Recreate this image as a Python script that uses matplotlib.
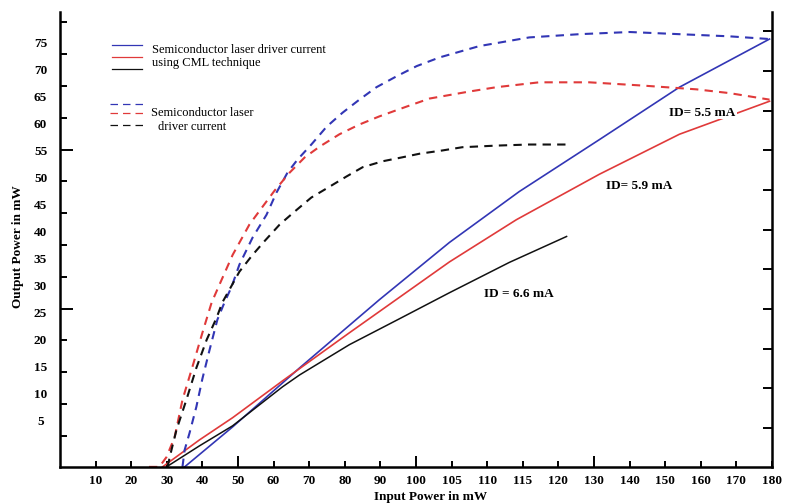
import numpy as np
import matplotlib.pyplot as plt
from matplotlib.lines import Line2D

plt.rcParams['font.family'] = ['Liberation Serif', 'DejaVu Serif']

# x axis labels of the original figure (unevenly spaced values, evenly spaced on the axis)
x_ticks = [10, 20, 30, 40, 50, 60, 70, 80, 90, 100, 105, 110, 115, 120, 130, 140, 150, 160, 170, 180]
y_ticks = [5, 10, 15, 20, 25, 30, 35, 40, 45, 50, 55, 60, 65, 70, 75]

# solid curves: semiconductor laser driver current using CML technique
blue_x = [35.0, 48.5, 67.3, 89.7, 104.7, 114.5, 131.5, 154.0, 179.3]
blue_y = [-3.5, 3.9, 14.8, 27.4, 38.0, 47.4, 57.0, 66.7, 75.6]
red_x = [28.8, 39.2, 48.5, 62.5, 81.3, 104.7, 114.1, 131.5, 154.0, 179.3]
red_y = [-3.5, 1.5, 5.6, 12.4, 21.3, 34.4, 42.2, 50.6, 58.0, 64.1]
black_x = [29.9, 39.2, 48.5, 62.5, 67.3, 81.3, 95.4, 104.7, 113.1, 122.3]
black_y = [-3.5, 0.4, 4.1, 11.3, 13.5, 19.1, 23.9, 28.7, 34.3, 39.1]

# dashed curves: semiconductor laser driver current
blue_d_x = [34.4, 35.0, 36.4, 38.3, 40.0, 42.0, 44.2, 46.2, 48.2, 50.4, 54.1, 58.0, 60.8, 63.9, 66.7,
            70.6, 74.9, 79.4, 84.1, 88.9, 94.5, 100.1, 103.3, 108.9, 115.9, 125.9, 140.0, 154.0, 168.1, 179.3]
blue_d_y = [-3.5, -0.4, 2.8, 7.6, 12.8, 18.1, 23.7, 26.9, 29.8, 33.9, 38.9, 43.1, 47.2, 50.9, 53.3,
            56.1, 59.4, 62.0, 64.4, 66.7, 68.7, 70.6, 72.2, 74.3, 75.9, 76.5, 76.9, 76.5, 76.1, 75.6]
red_d_x = [25.0, 27.9, 29.9, 32.2, 34.4, 37.2, 40.0, 42.6, 45.4, 48.5, 53.2, 56.9, 60.3, 64.5, 68.7, 72.9,
           78.5, 84.1, 89.7, 97.3, 101.9, 107.5, 111.3, 117.3, 128.7, 143.6, 158.8, 168.1, 179.3]
red_d_y = [-3.5, -3.5, -1.7, 2.0, 8.9, 15.0, 21.3, 26.9, 31.1, 35.7, 41.3, 44.6, 47.6, 50.9, 53.7, 55.7,
           58.0, 59.8, 61.3, 63.1, 64.6, 65.9, 66.7, 67.6, 67.6, 67.0, 66.3, 65.6, 64.4]
black_d_x = [30.2, 31.3, 32.7, 35.5, 38.3, 41.2, 44.0, 45.6, 50.4, 54.1, 57.4, 61.7, 65.9, 70.6, 75.7,
             80.5, 85.0, 90.6, 95.9, 100.5, 103.7, 106.5, 111.3, 115.9, 122.3]
black_d_y = [-3.5, -0.4, 3.3, 8.9, 14.8, 20.0, 24.1, 26.9, 32.6, 35.7, 38.2, 41.3, 43.7, 46.3, 48.3,
             50.2, 51.9, 53.0, 53.7, 54.4, 55.0, 55.6, 55.9, 56.1, 56.1]

BLUE = '#3236b5'
RED = '#e03a3a'
BLACK = '#111111'

scale_vals = [0] + x_ticks
scale_pos = np.arange(len(scale_vals))


def fwd(x):
    return np.interp(x, scale_vals, scale_pos)


def inv(p):
    return np.interp(p, scale_pos, scale_vals)


fig = plt.figure(figsize=(7.87, 5.03), dpi=100)
ax = fig.add_axes([60 / 787, 36 / 503, 712 / 787, 455 / 503])
ax.set_xscale('function', functions=(fwd, inv))
ax.set_xlim(0, 180)
ax.set_ylim(-3.52, 80.6)

ax.plot(blue_x, blue_y, color=BLUE, lw=1.2)
ax.plot(red_x, red_y, color=RED, lw=1.2)
ax.plot(black_x, black_y, color=BLACK, lw=1.1)
ax.plot(blue_d_x, blue_d_y, color=BLUE, lw=1.5, dashes=(4, 3))
ax.plot(red_d_x, red_d_y, color=RED, lw=1.5, dashes=(4, 3))
ax.plot(black_d_x, black_d_y, color=BLACK, lw=1.5, dashes=(4, 3))

tick_font = dict(family='Liberation Serif', weight='bold', size=9.5)

# x ticks
ax.set_xticks(x_ticks)
ax.set_xticklabels([str(v) for v in x_ticks], fontdict=tick_font)
ax.tick_params(axis='x', direction='in', length=4, width=1.4, pad=6)
for t, v in zip(ax.xaxis.get_major_ticks(), x_ticks):
    if v in (50, 100, 130):
        t.tick1line.set_markersize(8)

# y labels sit between the tick marks on the original, so marks are minor ticks
ax.set_yticks(y_ticks)
ax.set_yticklabels([str(v) for v in y_ticks], fontdict=tick_font)
ax.tick_params(axis='y', which='major', length=0, pad=14)
for lab in ax.get_yticklabels():
    lab.set_ha('center')
left_marks = [2.22 + 5.883 * k for k in range(14)]
ax.set_yticks(left_marks, minor=True)
ax.tick_params(axis='y', which='minor', direction='in', length=5, width=1.4)
for i, t in enumerate(ax.yaxis.get_minor_ticks()):
    if i in (4, 9):
        t.tick1line.set_markersize(9)

ax.spines['top'].set_visible(False)
ax.spines['right'].set_visible(False)
for s in ('left', 'bottom'):
    ax.spines[s].set_linewidth(1.8)

ax2 = ax.twinx()
ax2.set_ylim(ax.get_ylim())
ax2.set_yticks([3.70 + 7.333 * k for k in range(11)])
ax2.tick_params(axis='y', direction='in', length=6.5, width=1.4, labelright=False)
for s in ('top', 'left', 'bottom'):
    ax2.spines[s].set_visible(False)
ax2.spines['right'].set_linewidth(1.8)

ax.set_xlabel('Input Power in mW', fontdict=tick_font)
ax.xaxis.label.set_va('center')
ax.xaxis.set_label_coords(0.52, -0.066)
ax.set_ylabel('Output Power in mW', fontdict=tick_font)
ax.yaxis.label.set_va('center')
ax.yaxis.set_label_coords(-0.059, 0.485)

# hand-made legend
leg_font = dict(family='Liberation Serif', size=9)
for yy, c in ((0.927, BLUE), (0.901, RED), (0.875, BLACK)):
    ax.add_line(Line2D([0.073, 0.115], [yy, yy], transform=ax.transAxes, color=c, lw=0.9))
for yy, c in ((0.798, BLUE), (0.778, RED), (0.752, BLACK)):
    ax.add_line(Line2D([0.070, 0.117], [yy, yy], transform=ax.transAxes, color=c, lw=0.9,
                       dashes=(6, 4)))
ax.text(0.129, 0.916, 'Semiconductor laser driver current', transform=ax.transAxes,
        va='center', fontdict=leg_font)
ax.text(0.129, 0.888, 'using CML technique', transform=ax.transAxes, va='center', fontdict=leg_font)
ax.text(0.128, 0.778, 'Semiconductor laser', transform=ax.transAxes, va='center', fontdict=leg_font)
ax.text(0.138, 0.747, 'driver current', transform=ax.transAxes, va='center', fontdict=leg_font)

ann_font = dict(family='Liberation Serif', weight='bold', size=9.5)
ax.text(151.2, 62.0, 'ID= 5.5 mA', va='center', fontdict=ann_font,
        bbox=dict(facecolor='white', edgecolor='none', pad=0.5))
ax.text(133.5, 48.5, 'ID= 5.9 mA', va='center', fontdict=ann_font)
ax.text(109.6, 28.5, 'ID = 6.6 mA', va='center', fontdict=ann_font)

fig.savefig('out.png', dpi=100)
